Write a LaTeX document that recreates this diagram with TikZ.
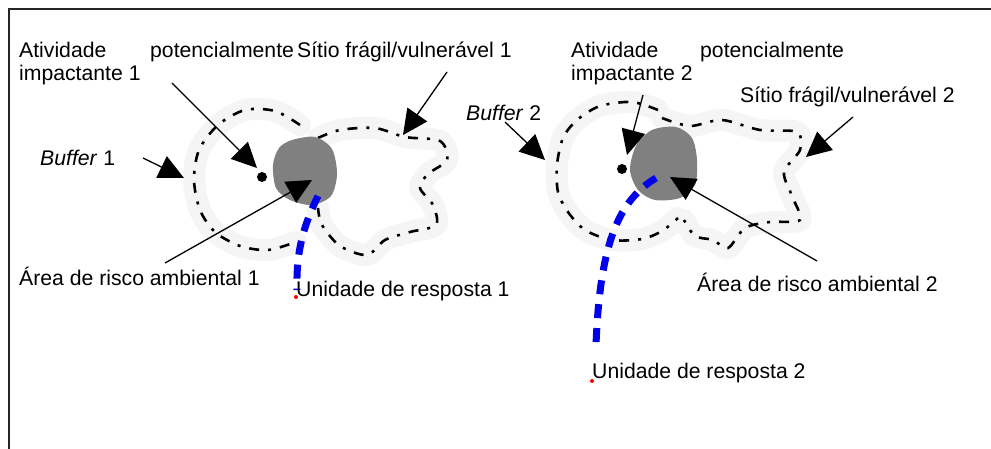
\documentclass[tikz,border=0pt]{standalone}
\usepackage{fontspec}
\setmainfont{Liberation Sans}
\usetikzlibrary{arrows.meta}

\begin{document}
\begin{tikzpicture}[x=1pt,y=-1pt,
        lbl/.style={anchor=base west,inner sep=0pt,font=\fontsize{21.2}{25}\selectfont},
        pointer/.style={line width=1.3pt,-{Triangle[length=25pt,width=24pt]}},
        edge/.style={line width=2.6pt,dash pattern=on 10pt off 9pt on 3pt off 9pt},
        halo/.style={line width=22pt,black!4,line cap=round,line join=round},
        route/.style={line width=7pt,blue!92!black,dash pattern=on 14pt off 10pt},
        spot/.style={circle,fill=black,inner sep=0pt,minimum size=10pt},
        base/.style={circle,fill=red,inner sep=0pt,minimum size=4pt},
        blob/.style={fill=black!50,draw=none}]
    \useasboundingbox (0,0) rectangle (991,449);
    % frame
    \draw[line width=2pt,black!85] (9,449) -- (9,9) -- (991,9);

    % halo round the outlines
    \draw[halo] plot[smooth] coordinates {(300,125) (275,111) (245,110) (218,125) (199,150) (194,180) (200,210) (215,232) (240,246) (268,250) (296,242)};
    \draw[halo] plot[smooth] coordinates {(318,138) (340,130) (375,128) (405,137) (440,141) (447,160) (428,174) (420,188) (433,205) (436,225) (410,232) (385,240) (367,255) (340,246) (322,225) (318,208)};
    \draw[halo] plot[smooth] coordinates {(658,110) (632,102) (600,106) (577,120) (563,138) (557,165) (558,192) (568,212) (585,230) (612,240) (642,239) (662,231) (678,218)};
    \draw[halo] plot[smooth] coordinates {(662,118) (690,126) (722,120) (760,130) (797,132) (800,150) (784,172) (792,196) (800,220) (770,222) (745,228) (728,248) (713,240) (695,236) (684,220)};

    % buffer 1 and site 1
    \draw[edge] plot[smooth] coordinates {(300,125) (275,111) (245,110) (218,125) (199,150) (194,180) (200,210) (215,232) (240,246) (268,250) (296,242)};
    \draw[edge] plot[smooth] coordinates {(318,138) (340,130) (375,128) (405,137) (440,141) (447,160) (428,174) (420,188) (433,205) (436,225) (410,232) (385,240) (367,255) (340,246) (322,225) (318,208)};
    % buffer 2 and site 2
    \draw[edge] plot[smooth] coordinates {(658,110) (632,102) (600,106) (577,120) (563,138) (557,165) (558,192) (568,212) (585,230) (612,240) (642,239) (662,231) (678,218)};
    \draw[edge] plot[smooth] coordinates {(662,118) (690,126) (722,120) (760,130) (797,132) (800,150) (784,172) (792,196) (800,220) (770,222) (745,228) (728,248) (713,240) (695,236) (684,220)};

    % risk areas
    \fill[blob] plot[smooth cycle] coordinates {(292,140) (315,137) (332,149) (337,174) (331,196) (312,205) (290,200) (276,188) (273,165) (279,148)};
    \fill[blob] plot[smooth cycle] coordinates {(652,130) (676,127) (692,138) (697,160) (695,185) (680,198) (655,200) (638,190) (630,170) (636,146)};

    % activities and response units
    \node[spot] (act1) at (262,177) {};
    \node[spot] (act2) at (622,169) {};
    \node[base] (unit1) at (296,297) {};
    \node[base] (unit2) at (592,381) {};
    \coordinate (risk1) at (318,196);
    \coordinate (risk2) at (656,178);

    % response routes
    \draw[route] (risk1) .. controls (304,225) and (296,250) .. (297,290);
    \draw[route] (risk2) .. controls (620,200) and (600,240) .. (596,345);

    % labels
    \node[lbl] (atv1) at (19,58) {Atividade};
    \node[lbl] (pot1) at (150,58) {potencialmente};
    \node[lbl] (imp1) at (19,81) {impactante 1};
    \node[lbl] (sit1) at (297,58) {Sítio frágil/vulnerável 1};
    \node[lbl] (buf1) at (40,166) {\textit{Buffer} 1};
    \node[lbl] (are1) at (19,285) {Área de risco ambiental 1};
    \node[lbl] (uni1) at (296,296) {Unidade de resposta 1};

    \node[lbl] (atv2) at (571,58) {Atividade};
    \node[lbl] (pot2) at (700,58) {potencialmente};
    \node[lbl] (imp2) at (571,81) {impactante 2};
    \node[lbl] (sit2) at (740,103) {Sítio frágil/vulnerável 2};
    \node[lbl] (buf2) at (466,121) {\textit{Buffer} 2};
    \node[lbl] (are2) at (697,291) {Área de risco ambiental 2};
    \node[lbl] (uni2) at (592,378) {Unidade de resposta 2};

    % pointers
    \coordinate (p1) at (172,83);   \coordinate (t1) at (257,168);
    \coordinate (p2) at (143,158);  \coordinate (t2) at (184,178);
    \coordinate (p3) at (447,72);   \coordinate (t3) at (403,135);
    \coordinate (p4) at (165,263);  \coordinate (t4) at (312,180);
    \coordinate (p5) at (643,95);   \coordinate (t5) at (627,155);
    \coordinate (p6) at (505,122);  \coordinate (t6) at (545,160);
    \coordinate (p7) at (853,117);  \coordinate (t7) at (806,157);
    \coordinate (p8) at (817,261);  \coordinate (t8) at (670,177);
    \foreach \s/\t in {p1/t1,p2/t2,p3/t3,p4/t4,p5/t5,p6/t6,p7/t7,p8/t8}
        \draw[pointer] (\s) -- (\t);
\end{tikzpicture}
\end{document}
